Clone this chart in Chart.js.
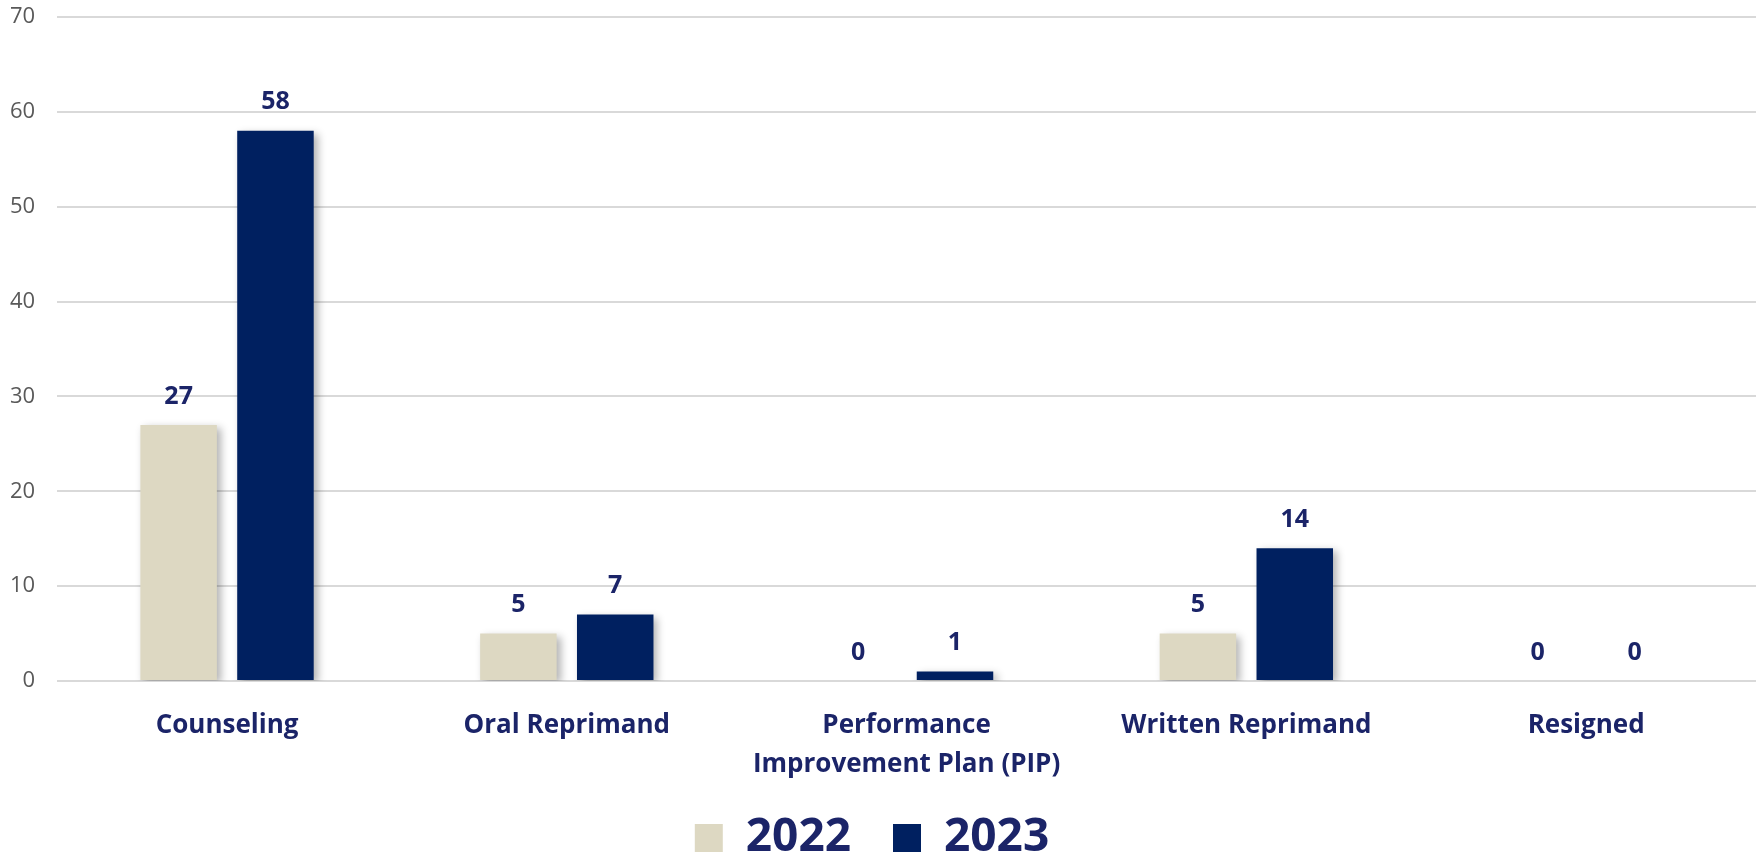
<!DOCTYPE html>
<html>
<head>
<meta charset="utf-8">
<script src="https://cdn.jsdelivr.net/npm/chart.js@4"></script>
<style>
  html, body { margin: 0; padding: 0; background: #fff; }
  #wrap { width: 1760px; height: 855px; }
</style>
</head>
<body>
<div id="wrap"><canvas id="myChart"></canvas></div>
<script>
// DATA

const categories = [
  'Counseling',
  'Oral Reprimand',
  ['Performance', 'Improvement Plan (PIP)'],
  'Written Reprimand',
  'Resigned'
];
const values2022 = [27, 5, 0, 5, 0];
const values2023 = [58, 7, 1, 14, 0];
const yTicks = [0, 10, 20, 30, 40, 50, 60, 70];

const NAVY_TEXT = '#1b2468';

// bar labels drawn above each bar
const valueLabels = {
  id: 'valueLabels',
  afterDatasetsDraw(chart) {
    const ctx = chart.ctx;
    ctx.save();
    ctx.font = 'bold 25px "Open Sans"';
    ctx.fillStyle = NAVY_TEXT;
    ctx.textAlign = 'center';
    ctx.textBaseline = 'bottom';
    chart.data.datasets.forEach(function (ds, i) {
      chart.getDatasetMeta(i).data.forEach(function (bar, j) {
        ctx.fillText(String(ds.data[j]), bar.x, bar.y - 16);
      });
    });
    ctx.restore();
  }
};

// soft drop shadow on the bars
const barShadow = {
  id: 'barShadow',
  beforeDatasetsDraw(chart) {
    const ctx = chart.ctx;
    ctx.save();
    ctx.shadowColor = 'rgba(0,0,0,0.3)';
    ctx.shadowBlur = 8;
    ctx.shadowOffsetX = 4;
    ctx.shadowOffsetY = 3;
  },
  afterDatasetsDraw(chart) {
    chart.ctx.restore();
  }
};

// the x labels and legend overlap a bit in the layout,
// so give the plot more height and stretch the legend box back up
const LEGEND_LIFT = 28;
const legendFit = {
  id: 'legendFit',
  beforeInit(chart) {
    const origFit = chart.legend.fit;
    chart.legend.fit = function () {
      origFit.call(this);
      this.height -= 16 + LEGEND_LIFT;
    };
  },
  afterLayout(chart) {
    chart.legend.top -= LEGEND_LIFT;
    chart.legend.height += LEGEND_LIFT;
  }
};

// CHART

const ctx = document.getElementById('myChart').getContext('2d');

const chart = new Chart(ctx, {
  type: 'bar',
  data: {
    labels: categories,
    datasets: [
      {
        label: '2022',
        backgroundColor: '#ddd8c2',
        data: values2022,
      },
      {
        label: '2023',
        backgroundColor: '#002060',
        data: values2023,
      },
    ],
  },
  options: {
    responsive: true,
    maintainAspectRatio: false,
    animation: false,
    categoryPercentage: 0.57,
    barPercentage: 0.79,
    layout: { padding: { top: 0, right: 4, left: -12, bottom: 0 } },
    scales: {
      x: {
        grid: { display: false },
        border: { display: false },
        ticks: {
          color: NAVY_TEXT,
          font: { family: 'Open Sans', size: 26, weight: 'bold', lineHeight: 1.5 },
          maxRotation: 0,
          autoSkip: false,
          padding: 17,
        },
      },
      y: {
        min: 0,
        max: 70,
        afterBuildTicks(axis) {
          axis.ticks = yTicks.map(function (v) { return { value: v }; });
        },
        // tick padding is horizontal only here, keep the top tight
        afterFit(axis) {
          axis.paddingTop = 17;
          axis.paddingBottom = 0;
        },
        grid: { color: '#d9d9d9', lineWidth: 2, drawTicks: false },
        border: { display: false },
        ticks: {
          color: '#595959',
          font: { family: 'Open Sans', size: 22 },
          padding: 22,
        },
      },
    },
    plugins: {
      legend: {
        position: 'bottom',
        labels: {
          color: NAVY_TEXT,
          font: { family: 'Open Sans', size: 46, weight: 'bold' },
          boxWidth: 28,
          boxHeight: 28,
          padding: 42,
        },
      },
      tooltip: { enabled: false },
    },
  },
  plugins: [legendFit, barShadow, valueLabels],
});
</script>
</body>
</html>
